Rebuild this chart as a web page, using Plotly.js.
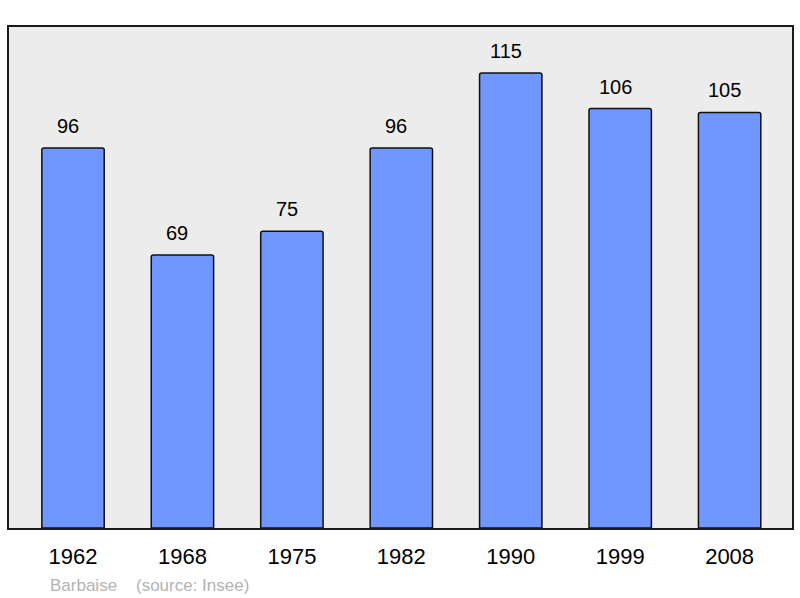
<!DOCTYPE html>
<html><head><meta charset="utf-8">
<script src="https://cdn.plot.ly/plotly-3.0.1.min.js"></script>
<style>html,body{margin:0;padding:0;background:#fff;}#chart{width:800px;height:598px;}</style>
</head><body><div id="chart"></div>
<script>
const years = ['1962','1968','1975','1982','1990','1999','2008'];
const population = [96, 69, 75, 96, 115, 106, 105];
const footerText = 'Barbaise\u00a0\u00a0\u00a0\u00a0(source: Insee)';

const trace = {
  type: 'bar', x: years, y: population, width: 0.57,
  marker: {color: '#7096ff', line: {color: '#111', width: 1.5}, cornerradius: 2},
  hoverinfo: 'none'
};
const annotations = years.map((yr, i) => ({
  x: i, y: population[i], xref: 'x', yref: 'y', text: String(population[i]),
  showarrow: false, yanchor: 'bottom', yshift: 9, xshift: -5,
  font: {family: 'Liberation Sans, Arial, sans-serif', size: 20, color: '#000'}
}));
annotations.push({
  xref: 'paper', yref: 'paper', x: 0.05, y: -0.092, xanchor: 'left', yanchor: 'top',
  text: footerText, showarrow: false,
  font: {family: 'Liberation Sans, Arial, sans-serif', size: 17, color: '#b3b3b3'}
});
const layout = {
  width: 800, height: 598,
  margin: {l: 9, r: 8, t: 27, b: 70},
  paper_bgcolor: '#fff', plot_bgcolor: '#ececec',
  showlegend: false,
  xaxis: {type: 'category', range: [-0.585, 6.57], showline: true, mirror: true, linecolor: '#1a1a1a', linewidth: 2,
    ticks: '', showgrid: false, zeroline: false, ticklabelstandoff: 8,
    tickfont: {family: 'Liberation Sans, Arial, sans-serif', size: 22, color: '#000'}},
  yaxis: {range: [0, 126.6], showline: true, mirror: true, linecolor: '#1a1a1a', linewidth: 2,
    showticklabels: false, ticks: '', showgrid: false, zeroline: false},
  annotations: annotations
};
Plotly.newPlot('chart', [trace], layout, {displayModeBar: false, staticPlot: true});
</script></body></html>
